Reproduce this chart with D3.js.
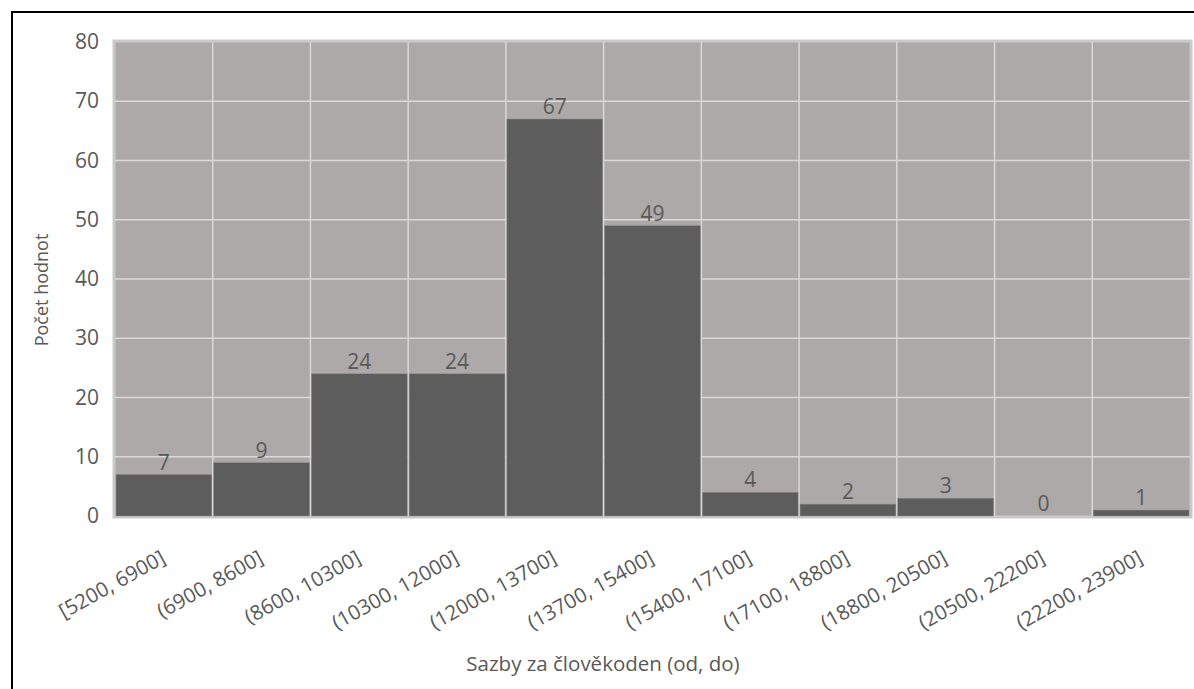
<!DOCTYPE html>
<html><head><meta charset="utf-8">
<script src="https://cdn.jsdelivr.net/npm/d3@7"></script>
<style>body{margin:0;background:#fff}svg{display:block}</style>
</head><body>
<script>
const categories = ["[5200, 6900]","(6900, 8600]","(8600, 10300]","(10300, 12000]","(12000, 13700]","(13700, 15400]","(15400, 17100]","(17100, 18800]","(18800, 20500]","(20500, 22200]","(22200, 23900]"];
const counts = [7, 9, 24, 24, 67, 49, 4, 2, 3, 0, 1];
const yTicks = [0,10,20,30,40,50,60,70,80];
const yTitle = "Počet hodnot";
const xTitle = "Sazby za člověkoden (od, do)";

const W = 1194, H = 689;
const font = "'Open Sans', 'Liberation Sans', sans-serif";
const svg = d3.select("body").append("svg").attr("width", W).attr("height", H);
svg.append("rect").attr("x",0).attr("y",0).attr("width",W).attr("height",H).attr("fill","#fff");
// outer frame
svg.append("rect").attr("x",12).attr("y",12).attr("width",W+20).attr("height",H+20)
  .attr("fill","none").attr("stroke","#000").attr("stroke-width",2);

const m = {left:115, right:1190, top:42, bottom:516};
const x = d3.scaleBand().domain(categories).range([m.left, m.right]).padding(0);
const y = d3.scaleLinear().domain([0,80]).range([m.bottom, m.top]);

// plot area border
svg.append("rect").attr("x",m.left-1).attr("y",m.top-1).attr("width",m.right-m.left+2).attr("height",m.bottom-m.top+2)
  .attr("fill","#ada9a8").attr("stroke","#c9c9c9").attr("stroke-width",3);

// grid
const g = svg.append("g");
g.selectAll("line.h").data(yTicks.slice(1,-1)).join("line")
  .attr("x1",m.left).attr("x2",m.right).attr("y1",d=>y(d)).attr("y2",d=>y(d))
  .attr("stroke","#d9d9d9").attr("stroke-width",1.5);
g.selectAll("line.v").data(categories.slice(1)).join("line")
  .attr("x1",d=>x(d)).attr("x2",d=>x(d)).attr("y1",m.top).attr("y2",m.bottom)
  .attr("stroke","#d9d9d9").attr("stroke-width",1.5);

// bars
svg.selectAll("rect.bar").data(counts).join("rect").attr("class","bar")
  .attr("x",(d,i)=>x(categories[i])+1).attr("width",x.bandwidth()-2)
  .attr("y",d=>y(d)).attr("height",d=>Math.max(0,m.bottom-y(d)))
  .attr("fill","#5d5d5d").attr("stroke","#8a8a8a").attr("stroke-width",0.5);

// data labels
svg.selectAll("text.lbl").data(counts).join("text")
  .attr("x",(d,i)=>x(categories[i])+x.bandwidth()/2).attr("y",d=>y(d)-5)
  .attr("text-anchor","middle").attr("font-family",font).attr("font-size",21)
  .attr("fill","#595959").text(d=>d);

// y axis labels
const yAxis = d3.axisLeft(y).tickValues(yTicks).tickSize(0).tickPadding(16);
const ya = svg.append("g").attr("transform",`translate(${m.left},0)`).call(yAxis);
ya.select(".domain").remove();
ya.selectAll("text").attr("font-family",font).attr("font-size",21).attr("fill","#595959");

// x axis labels
const xAxis = d3.axisBottom(x).tickSize(0).tickPadding(0);
const xa = svg.append("g").attr("transform",`translate(0,${m.bottom})`).call(xAxis);
xa.select(".domain").remove();
xa.selectAll("text").attr("font-family",font).attr("font-size",20.5).attr("fill","#595959")
  .attr("text-anchor","end").attr("dy",0).attr("y",0)
  .attr("transform","translate(3,46) rotate(-29)");

// titles
svg.append("text").attr("transform","translate(48,290) rotate(-90)")
  .attr("text-anchor","middle").attr("font-family",font).attr("font-size",18).attr("fill","#595959").text(yTitle);
svg.append("text").attr("x",603).attr("y",671)
  .attr("text-anchor","middle").attr("font-family",font).attr("font-size",20.5).attr("fill","#595959").text(xTitle);
</script>
</body></html>
